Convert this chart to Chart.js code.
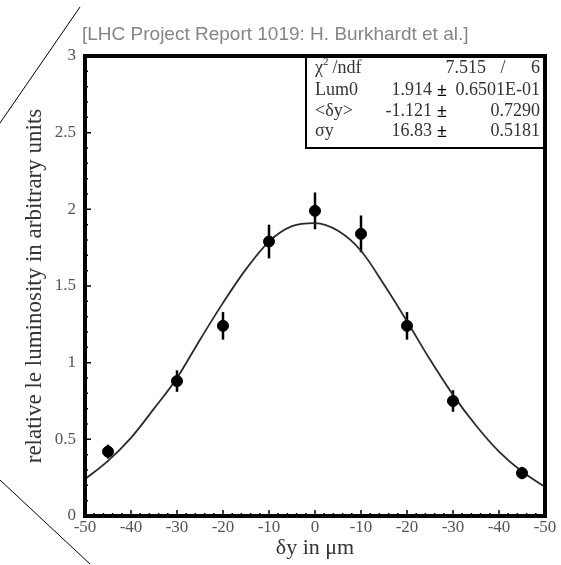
<!DOCTYPE html>
<html>
<head>
<meta charset="utf-8">
<script src="https://cdn.jsdelivr.net/npm/chart.js@4.4.0/dist/chart.umd.min.js"></script>
<style>
  html, body { margin: 0; padding: 0; background: #fff; }
  #wrap { width: 561px; height: 565px; }
</style>
</head>
<body>
<div id="wrap"><canvas id="c" width="561" height="565"></canvas></div>
<script>
// scan points (separation in um) and measured relative luminosity
const scanX = [-45, -30, -20, -10, 0, 10, 20, 30, 45];
const lumi = [0.42, 0.88, 1.24, 1.79, 1.99, 1.84, 1.24, 0.75, 0.28];
const lumiErr = [0.045, 0.07, 0.09, 0.11, 0.12, 0.12, 0.09, 0.07, 0.04];

// fitted curve
const fitX = [-50, -45, -40, -35, -30, -25, -20, -15, -10, -5, 0, 5, 10, 15, 20, 25, 30, 35, 40, 45, 50];
const fitY = [0.24, 0.36, 0.51, 0.70, 0.90, 1.15, 1.39, 1.61, 1.79, 1.89, 1.91, 1.86, 1.73, 1.51, 1.27, 1.02, 0.79, 0.59, 0.42, 0.29, 0.19];

// fit statistics box
const statLabels = ['χ', 'Lum0', '<δy>', 'σy'];
const statValues = ['7.515', '1.914', '-1.121', '16.83'];
const statErrors = ['6', '0.6501E-01', '0.7290', '0.5181'];

const SERIF = '"Liberation Serif", "DejaVu Serif", serif';

const decor = {
  id: 'decor',
  beforeDatasetsDraw(chart) {
    const { ctx, scales: { x, y } } = chart;
    ctx.save();
    ctx.strokeStyle = '#000';
    ctx.lineWidth = 2.5;
    scanX.forEach((v, i) => {
      const px = x.getPixelForValue(v);
      ctx.beginPath();
      ctx.moveTo(px, y.getPixelForValue(lumi[i] - lumiErr[i]));
      ctx.lineTo(px, y.getPixelForValue(lumi[i] + lumiErr[i]));
      ctx.stroke();
    });
    ctx.restore();
  },
  afterDraw(chart) {
    const { ctx, chartArea: a, scales: { x, y } } = chart;
    ctx.save();

    // stat box
    const bx = 306, by = a.top, bw = a.right - 306, bh = 148 - a.top;
    ctx.fillStyle = '#fff';
    ctx.fillRect(bx, by, bw, bh);
    ctx.strokeStyle = '#000';
    ctx.lineWidth = 2;
    ctx.strokeRect(bx, by, bw, bh);
    ctx.fillStyle = '#333';
    ctx.textBaseline = 'middle';
    const rows = [68, 90, 111, 131];
    rows.forEach((ry, i) => {
      ctx.font = '18px ' + SERIF;
      ctx.textAlign = 'left';
      if (i === 0) {
        ctx.fillText('χ', 315, ry);
        const w = ctx.measureText('χ').width;
        ctx.font = '11px ' + SERIF;
        ctx.fillText('2', 315 + w, ry - 6);
        ctx.font = '18px ' + SERIF;
        ctx.fillText(' /ndf', 315 + w + 5, ry);
        ctx.textAlign = 'right';
        ctx.fillText(statValues[0], 486, ry);
        ctx.textAlign = 'center';
        ctx.fillText('/', 503, ry);
        ctx.textAlign = 'right';
        ctx.fillText(statErrors[0], 540, ry);
      } else {
        ctx.fillText(statLabels[i], 315, ry);
        ctx.textAlign = 'right';
        ctx.fillText(statValues[i], 432, ry);
        ctx.fillText(statErrors[i], 540, ry);
        ctx.textAlign = 'center';
        ctx.font = 'bold 18px ' + SERIF;
        ctx.fillStyle = '#000';
        ctx.fillText('±', 442, ry + 1);
        ctx.fillStyle = '#333';
      }
    });

    // inward ticks on left and bottom axes
    ctx.strokeStyle = '#000';
    ctx.lineWidth = 1.5;
    ctx.beginPath();
    for (let v = -50; v <= 50; v += 2) {
      const px = x.getPixelForValue(v);
      const len = v % 10 === 0 ? 6 : 3;
      ctx.moveTo(px, a.bottom);
      ctx.lineTo(px, a.bottom - len);
    }
    for (let k = 0; k <= 30; k++) {
      const py = y.getPixelForValue(k / 10);
      const len = k % 5 === 0 ? 6 : 3;
      ctx.moveTo(a.left, py);
      ctx.lineTo(a.left + len, py);
    }
    ctx.stroke();

    // frame
    ctx.lineWidth = 4;
    ctx.strokeRect(a.left, a.top, a.right - a.left, a.bottom - a.top);

    // header
    ctx.fillStyle = '#858585';
    ctx.font = '19px "Liberation Sans", Arial, sans-serif';
    ctx.textAlign = 'left';
    ctx.textBaseline = 'middle';
    ctx.fillText('[LHC Project Report 1019: H. Burkhardt et al.]', 82, 35);

    // page edge lines of the scan
    ctx.strokeStyle = '#000';
    ctx.lineWidth = 1;
    ctx.beginPath();
    ctx.moveTo(80, 7); ctx.lineTo(0, 123);
    ctx.moveTo(0, 480); ctx.lineTo(90, 564);
    ctx.stroke();
    ctx.restore();
  }
};

new Chart(document.getElementById('c'), {
  type: 'scatter',
  data: {
    datasets: [
      {
        type: 'line',
        data: fitX.map((v, i) => ({ x: v, y: fitY[i] })),
        borderColor: '#2b2b2b',
        borderWidth: 1.8,
        pointRadius: 0,
        cubicInterpolationMode: 'monotone',
        fill: false,
        order: 2
      },
      {
        data: scanX.map((v, i) => ({ x: v, y: lumi[i] })),
        backgroundColor: '#000',
        borderColor: '#000',
        pointRadius: 5.5,
        pointHoverRadius: 5.5,
        order: 1
      }
    ]
  },
  options: {
    responsive: false,
    animation: false,
    events: [],
    layout: { padding: { top: 56, right: 16, left: 0, bottom: 0 } },
    plugins: { legend: { display: false }, tooltip: { enabled: false } },
    scales: {
      x: {
        type: 'linear', min: -50, max: 50,
        afterFit: s => { s.height = 49; },
        grid: { display: false, drawTicks: false },
        border: { display: false },
        ticks: {
          stepSize: 10, autoSkip: false, maxRotation: 0, padding: 1,
          color: '#555', font: { family: SERIF, size: 17 },
          callback: v => v === 0 ? '0' : '-' + Math.abs(v)
        },
        title: {
          display: true, text: 'δy in μm', color: '#333',
          font: { family: SERIF, size: 22 }, padding: { top: 0, bottom: 4 }
        }
      },
      y: {
        type: 'linear', min: 0, max: 3,
        afterFit: s => { s.width = 85; },
        grid: { display: false, drawTicks: false },
        border: { display: false },
        ticks: {
          stepSize: 0.5, padding: 9, color: '#555', font: { family: SERIF, size: 17 },
          callback: v => String(+v.toFixed(1))
        },
        title: {
          display: true, text: 'relative le luminosity in arbitrary units', color: '#333',
          font: { family: SERIF, size: 23 }, padding: { top: 21, bottom: 0 }
        }
      }
    }
  },
  plugins: [decor]
});
</script>
</body>
</html>
